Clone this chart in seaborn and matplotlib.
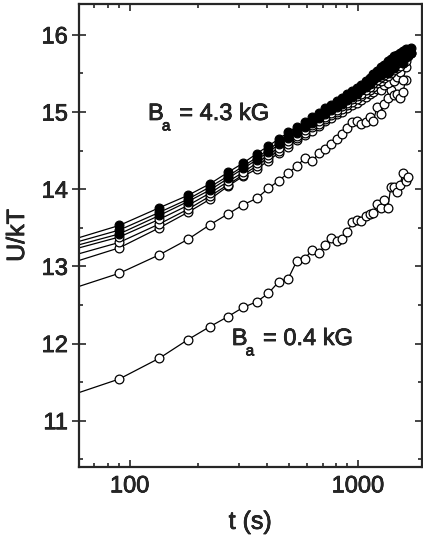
import numpy as np
import pandas as pd
import matplotlib
matplotlib.use("Agg")
import matplotlib.pyplot as plt
import matplotlib.patheffects as pe
import seaborn as sns
from matplotlib.ticker import FixedLocator, FixedFormatter, MultipleLocator, NullFormatter

# --- data: sampling times (s) and U/kT for each run ---
T_SEC = [45, 90, 135, 180, 225, 270, 315, 360, 405, 450, 495, 540, 585, 630,
         675, 720, 765, 810, 855, 900, 945, 990, 1035, 1080, 1125, 1170, 1215,
         1260, 1305, 1350, 1395, 1440, 1485, 1530, 1575, 1620, 1665, 1710]

# 4.3 kG bundle, filled markers
U_A = [13.26, 13.53, 13.76, 13.92, 14.07, 14.22, 14.34, 14.46, 14.56, 14.65,
       14.74, 14.81, 14.87, 14.94, 14.99, 15.05, 15.09, 15.14, 15.18, 15.23,
       15.27, 15.31, 15.35, 15.40, 15.44, 15.49, 15.53, 15.58, 15.61, 15.66,
       15.69, 15.72, 15.74, 15.77, 15.79, 15.82, 15.80, 15.83]
U_B = [13.22, 13.47, 13.70, 13.87, 14.03, 14.17, 14.30, 14.41, 14.51, 14.61,
       14.68, 14.76, 14.82, 14.89, 14.94, 15.00, 15.05, 15.09, 15.14, 15.18,
       15.23, 15.26, 15.31, 15.35, 15.39, 15.43, 15.48, 15.51, 15.55, 15.60,
       15.61, 15.66, 15.70, 15.72, 15.76, 15.75, 15.78, 15.77]
U_C = [13.18, 13.42, 13.66, 13.84, 13.99, 14.14, 14.27, 14.38, 14.48, 14.58,
       14.66, 14.73, 14.80, 14.86, 14.92, 14.97, 15.02, 15.07, 15.11, 15.16,
       15.20, 15.24, 15.28, 15.32, 15.36, 15.41, 15.45, 15.48, 15.53, 15.50,
       15.59, 15.57, 15.66, 15.68, 15.64, 15.74, 15.73, 15.76]

# 4.3 kG bundle, open markers
U_D = [13.14, 13.38, 13.61, 13.79, 13.95, 14.10, 14.22, 14.34, 14.44, 14.54,
       14.62, 14.69, 14.77, 14.83, 14.88, 14.94, 14.99, 15.03, 15.08, 15.12,
       15.17, 15.21, 15.24, 15.29, 15.33, 15.37, 15.41, 15.45, 15.48, 15.52,
       15.56, 15.58, 15.63, 15.65, 15.69, 15.71]
U_E = [13.06, 13.31, 13.55, 13.74, 13.91, 14.06, 14.19, 14.30, 14.41, 14.50,
       14.59, 14.66, 14.73, 14.80, 14.85, 14.91, 14.96, 15.00, 15.04, 15.09,
       15.13, 15.17, 15.21, 15.25, 15.29, 15.33, 15.37, 15.40, 15.44, 15.47,
       15.50, 15.54, 15.57, 15.60, 15.63, 15.66]
U_F = [12.96, 13.24, 13.50, 13.70, 13.87, 14.04, 14.17, 14.26, 14.37, 14.47,
       14.55, 14.64, 14.70, 14.76, 14.82, 14.88, 14.92, 14.97, 15.00, 15.05,
       15.09, 15.12, 15.16, 15.20, 15.23, 15.26, 15.30, 15.28, 15.35, 15.37,
       15.48, 15.40, 15.45, 15.52, 15.41, 15.59]

# intermediate field run
U_M = [12.62, 12.91, 13.15, 13.35, 13.54, 13.68, 13.80, 13.88, 14.01, 14.11,
       14.21, 14.30, 14.40, 14.36, 14.47, 14.52, 14.58, 14.65, 14.71, 14.79,
       14.87, 14.88, 14.85, 14.87, 14.94, 14.89, 15.07, 14.98, 15.11, 15.18,
       15.29, 15.22, 15.24, 15.18, 15.26, 15.41]

# 0.4 kG run
U_L = [11.24, 11.54, 11.81, 12.05, 12.22, 12.35, 12.47, 12.54, 12.65, 12.80,
       12.84, 13.07, 13.10, 13.21, 13.17, 13.28, 13.37, 13.33, 13.36, 13.44,
       13.57, 13.60, 13.59, 13.65, 13.68, 13.69, 13.81, 13.75, 13.86, 13.75,
       14.03, 14.03, 13.97, 14.05, 14.21, 14.10, 14.16]

OPEN_RUNS = [U_L, U_M, U_F, U_E, U_D]
FILLED_RUNS = [U_C, U_B, U_A]

X_TICKS = [100, 1000]
X_TICK_LABELS = ["100", "1000"]
FIELD_LABELS = ["= 4.3 kG", "= 0.4 kG"]

sns.set_style("ticks")
plt.rcParams["font.family"] = ["Liberation Sans", "DejaVu Sans"]

# slightly heavier glyphs, like the scanned figure
HEAVY = [pe.withStroke(linewidth=0.5, foreground="black")]

fig = plt.figure(figsize=(4.23, 5.44), dpi=100)
ax = fig.add_axes([79 / 423, 1 - 467 / 544, (421.5 - 79) / 423, (467 - 4) / 544])


def draw_run(values, face):
    df = pd.DataFrame({"t": T_SEC[:len(values)], "U": values})
    sns.lineplot(data=df, x="t", y="U", ax=ax, color="black", lw=0.9,
                 marker="o", markersize=6.3, markerfacecolor=face,
                 markeredgecolor="black", markeredgewidth=0.9,
                 errorbar=None, legend=False)


for run in OPEN_RUNS:
    draw_run(run, "white")
for run in FILLED_RUNS:
    draw_run(run, "black")

ax.set_xscale("log")
ax.set_xlim(60, 1900)
ax.set_ylim(10.4, 16.4)

ax.xaxis.set_major_locator(FixedLocator(X_TICKS))
ax.xaxis.set_major_formatter(FixedFormatter(X_TICK_LABELS))
ax.xaxis.set_minor_formatter(NullFormatter())
ax.yaxis.set_major_locator(MultipleLocator(1))
ax.yaxis.set_minor_locator(MultipleLocator(0.5))

for side in ["left", "right", "top", "bottom"]:
    ax.spines[side].set_linewidth(1.6)
    ax.spines[side].set_visible(True)

ax.tick_params(which="both", direction="in", top=True, right=True,
               labelsize=17, width=1.2, pad=6)
ax.tick_params(which="major", length=5)
ax.tick_params(which="minor", length=3)
ax.tick_params(axis="y", which="major", direction="inout", length=10, pad=3)

ax.set_xlabel("t (s)", fontsize=18, labelpad=9, path_effects=HEAVY)
ax.set_ylabel("U/kT", fontsize=18, labelpad=9, path_effects=HEAVY)
for lbl in ax.get_xticklabels() + ax.get_yticklabels():
    lbl.set_path_effects(HEAVY)

# field labels: big B, small dropped subscript a, then the value
for (x0, y0), label in zip([(0.2015, 0.7495), (0.446, 0.2635)], FIELD_LABELS):
    ax.annotate("B", (x0, y0), xycoords="axes fraction", fontsize=17,
                va="baseline", ha="left", path_effects=HEAVY)
    ax.annotate("a", (x0, y0), xycoords="axes fraction", xytext=(10, -7.5),
                textcoords="offset points", fontsize=11, va="baseline",
                ha="left", path_effects=HEAVY)
    ax.annotate(label, (x0, y0), xycoords="axes fraction", xytext=(22.5, 0),
                textcoords="offset points", fontsize=17, va="baseline",
                ha="left", path_effects=HEAVY)

fig.savefig("out.png", dpi=100)
